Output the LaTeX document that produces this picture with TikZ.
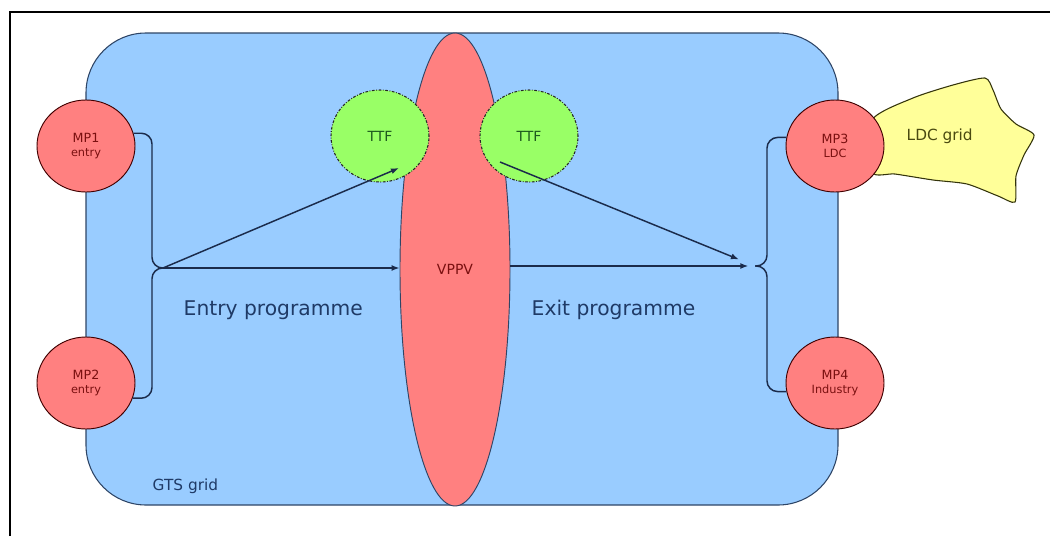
\documentclass[tikz,border=0pt]{standalone}
\usepackage{fontspec}
\setmainfont{DejaVu Sans}
\usetikzlibrary{shapes.geometric,arrows.meta,calc}

\definecolor{gridblue}{HTML}{99CCFF}
\definecolor{gridedge}{HTML}{2E4566}
\definecolor{salmon}{HTML}{FF8080}
\definecolor{ttfgreen}{HTML}{99FF66}
\definecolor{ldcyellow}{HTML}{FFFF99}
\definecolor{linknavy}{HTML}{1B2B4B}
\definecolor{labelnavy}{HTML}{1F3A66}
\definecolor{darkred}{HTML}{7A1010}
\definecolor{darkgreen}{HTML}{1E5A1E}
\definecolor{olive}{HTML}{4A4A10}

\begin{document}
\begin{tikzpicture}[x=0.75pt,y=-0.75pt,
  mp/.style={ellipse, draw=black!75!red, line width=0.7pt, fill=salmon,
    minimum width=73.5pt, minimum height=69pt, inner sep=0pt, align=center,
    text=darkred, font=\fontsize{9.5}{11.5}\selectfont},
  ttf/.style={ellipse, draw=black!85, line width=0.8pt,
    dash pattern=on 2pt off 1.2pt on 0.6pt off 1.2pt, fill=ttfgreen,
    minimum width=73.5pt, minimum height=69pt, inner sep=0pt,
    text=darkgreen, font=\fontsize{10.5}{12}\selectfont},
  link/.style={draw=linknavy, line width=1.1pt, rounded corners=8pt},
  arr/.style={link, -{Latex[length=6pt,width=4.5pt]}},
  biglabel/.style={anchor=base west, text=labelnavy, font=\fontsize{15.2}{18}\selectfont},
  smalllabel/.style={anchor=base west, font=\fontsize{11.5}{13}\selectfont}
]
\useasboundingbox (0,0) rectangle (1050,536);

% frame
\draw[line width=1.5pt] (9.5,536) -- (9.5,11.5) -- (1050,11.5);

% GTS grid area
\draw[gridedge, line width=0.8pt, fill=gridblue, rounded corners=45pt]
  (86,33) rectangle (838,505);

% LDC grid blob
\draw[olive!70!black, line width=0.8pt, fill=ldcyellow]
  plot[smooth cycle, tension=0.4] coordinates {
    (872,120) (913,98) (953,85) (985,78) (993,90) (1001,109) (1016,124)
    (1034,135) (1024,155) (1016,176) (1015,202) (998,196) (967,184)
    (933,180) (895,174) (872,172)};

% virtual point
\node[ellipse, draw=gridedge, line width=0.7pt, fill=salmon, minimum width=82.5pt,
  minimum height=354.75pt, inner sep=0pt, text=darkred,
  font=\fontsize{10.5}{12}\selectfont] (VPPV) at (455,269.5) {VPPV};

% title transfer facilities
\node[ttf] (TTF1) at (380,136) {TTF};
\node[ttf] (TTF2) at (529,136) {TTF};

% junctions and arrow ends
\coordinate (jL) at (163,268);
\coordinate (jR) at (755,266);
\coordinate (t1) at (399,168);
\coordinate (t2) at (500,162);

% market points
\node[mp] (MP1) at (86,146) {MP1\\[-1pt]{\fontsize{8.5}{9}\selectfont entry}};
\node[mp] (MP2) at (86,383) {MP2\\[-1pt]{\fontsize{8.5}{9}\selectfont entry}};
\node[mp] (MP3) at (835,146) {MP3\\[-1pt]{\fontsize{8.5}{9}\selectfont LDC}};
\node[mp] (MP4) at (835,383) {MP4\\[-1pt]{\fontsize{8.5}{9}\selectfont Industry}};

% entry side
\draw[link] (MP1.15) -| ($(jL)+(-11,0)$) -- (jL);
\draw[link] (MP2.-18) -| ($(jL)+(-11,0)$) -- (jL);
\draw[arr] (jL) -- (VPPV.west |- jL);
\draw[arr] (jL) -- (t1);

% exit side
\draw[link] (MP3.170) -| ($(jR)+(12,0)$) -- (jR);
\draw[link] (MP4.190) -| ($(jR)+(12,0)$) -- (jR);
\draw[arr, shorten >=5pt] (VPPV.east |- jR) -- (jR);
\draw[arr, shorten >=13pt] (t2) -- (jR);

% labels
\node[biglabel] (entry) at (179,315) {Entry programme};
\node[biglabel] (exit) at (527,315) {Exit programme};
\node[smalllabel, text=labelnavy] (gts) at (148,490) {GTS grid};
\node[smalllabel, text=olive] (ldc) at (902,140) {LDC grid};
\end{tikzpicture}
\end{document}
